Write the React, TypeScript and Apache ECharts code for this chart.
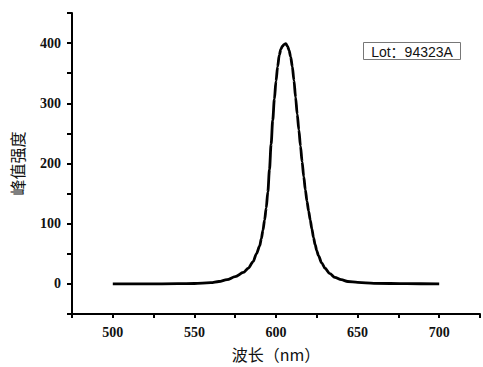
import React, { useEffect, useRef } from "react";
import * as echarts from "echarts";

const wavelengths = [500, 520, 540, 550, 560, 565, 570, 575, 580, 583, 586, 588, 590, 591, 592, 593, 594, 595, 596, 597, 598, 599, 600, 601, 602, 603, 604, 605, 606, 607, 608, 609, 610, 611, 612, 613, 614, 615, 616, 617, 618, 619, 620, 621, 622, 623, 624, 625, 626, 628, 630, 633, 636, 640, 644, 650, 660, 680, 700];
const intensities = [0, 0, 0.3, 0.7, 2, 4, 7, 12, 19, 26, 37, 50, 63, 75, 89, 106, 126, 153, 190, 232, 272, 307, 337, 361, 380, 390, 395, 398, 399, 395, 388, 377, 361, 338, 310, 282, 256, 229, 203, 178, 156, 137, 121, 106, 91, 77, 65, 55, 47, 35, 26, 17, 11, 7, 4, 2.5, 1, 0.3, 0];

const xTicks = [500, 550, 600, 650, 700];
const yTicks = [0, 100, 200, 300, 400];
const lotLabel = "Lot：94323A";

export default function App() {
  const ref = useRef<HTMLDivElement>(null);
  useEffect(() => {
    if (!ref.current) return;
    const chart = echarts.init(ref.current, null, { renderer: "svg" });
    const data = wavelengths.map((w, i) => [w, intensities[i]]);
    const labelFont = {
      fontFamily: "'Liberation Serif', 'Times New Roman', serif",
      fontWeight: "bold" as const,
      fontSize: 14,
      color: "#111",
    };
    chart.setOption({
      animation: false,
      backgroundColor: "#ffffff",
      grid: { left: 72, right: 2, top: 13, bottom: 50, containLabel: false },
      xAxis: {
        type: "value",
        min: 475,
        max: 725,
        interval: 25,
        name: "波长（nm）",
        nameLocation: "middle",
        nameGap: 32,
        nameTextStyle: { fontFamily: "'Noto Sans CJK SC'", fontSize: 16, color: "#111" },
        axisLine: { show: true, onZero: false, lineStyle: { color: "#000", width: 2 } },
        axisTick: { show: true, inside: false, length: 4, lineStyle: { color: "#000", width: 2 } },
        axisLabel: {
          ...labelFont,
          margin: 11,
          formatter: (v: number) => (xTicks.includes(v) ? String(v) : ""),
        },
        splitLine: { show: false },
      },
      yAxis: {
        type: "value",
        min: -50,
        max: 450,
        interval: 50,
        name: "峰值强度",
        nameLocation: "middle",
        nameGap: 47,
        nameTextStyle: { fontFamily: "'Noto Sans CJK SC'", fontSize: 16, color: "#111" },
        axisLine: { show: true, onZero: false, lineStyle: { color: "#000", width: 2 } },
        axisTick: { show: true, inside: false, length: 5, lineStyle: { color: "#000", width: 2 } },
        axisLabel: {
          ...labelFont,
          margin: 11,
          formatter: (v: number) => (yTicks.includes(v) ? String(v) : ""),
        },
        splitLine: { show: false },
      },
      series: [
        {
          type: "line",
          data,
          smooth: 0.3,
          smoothMonotone: "x",
          showSymbol: false,
          lineStyle: { color: "#000", width: 2.8 },
        },
      ],
      graphic: [
        {
          type: "group",
          left: 363,
          top: 42,
          children: [
            {
              type: "rect",
              shape: { x: 0, y: 0, width: 97, height: 17 },
              style: { fill: "#fff", stroke: "#777", lineWidth: 1 },
            },
            {
              type: "text",
              x: 48.5,
              y: 9,
              style: {
                text: lotLabel,
                fontFamily: "'Liberation Sans', 'Noto Sans CJK SC', sans-serif",
                fontSize: 14,
                fill: "#111",
                align: "center",
                verticalAlign: "middle",
              },
            },
          ],
        },
      ],
    });
    return () => chart.dispose();
  }, []);
  return <div ref={ref} style={{ width: 483, height: 367, position: "absolute", left: 0, top: 0 }} />;
}
